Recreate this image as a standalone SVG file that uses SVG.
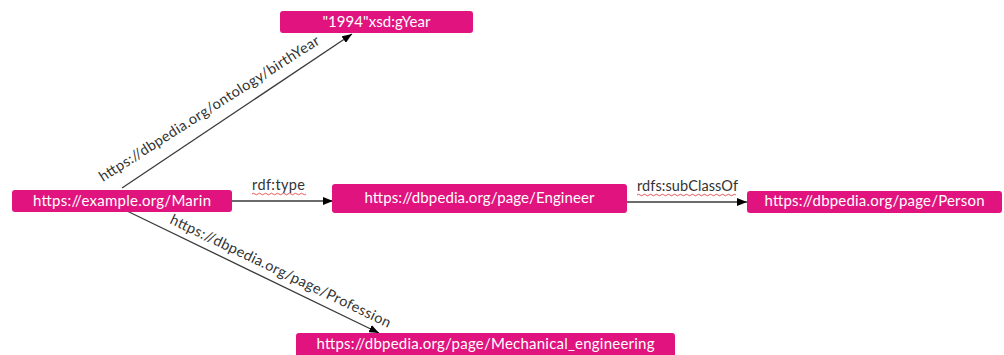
<svg xmlns="http://www.w3.org/2000/svg" width="1004" height="355" viewBox="0 0 1004 355">
<style>
.node rect{fill:#E0137F;}
.node text{fill:#ffffff;font-family:Lato,"Liberation Sans",sans-serif;font-size:15px;text-anchor:middle;}
.edge line{stroke:#3a3a3a;stroke-width:1.3;fill:none;}
.lbl{fill:#333333;font-family:Lato,"Liberation Sans",sans-serif;font-size:14.5px;}
.sq{stroke:#e03030;stroke-width:0.8;fill:none;}
</style>
<defs>
<marker id="arr" markerWidth="10" markerHeight="8" refX="10" refY="4" orient="auto" markerUnits="userSpaceOnUse">
<path d="M0,0 L10,4 L0,8 Z" fill="#000000"/>
</marker>
</defs>
<rect width="1004" height="355" fill="#ffffff"/>
<g id="connectors" class="edge">
<line x1="122" y1="188" x2="352" y2="34" marker-end="url(#arr)"/>
<line x1="232" y1="201" x2="333" y2="201" marker-end="url(#arr)"/>
<line x1="627" y1="202" x2="747" y2="202" marker-end="url(#arr)"/>
<line x1="127" y1="211" x2="379" y2="333" marker-end="url(#arr)"/>
<text class="lbl" transform="translate(103,182) rotate(-32.5)" textLength="258">https://dbpedia.org/ontology/birthYear</text>
<text class="lbl" transform="translate(169,223) rotate(25.6)" textLength="243">https://dbpedia.org/page/Profession</text>
<text class="lbl" x="252" y="190" textLength="53">rdf:type</text>
<text class="lbl" x="637" y="191" textLength="101">rdfs:subClassOf</text>
<path class="sq" d="M252,194 q1.5,-1.5 3,0 t3,0 t3,0 t3,0 t3,0 t3,0 t3,0 t3,0 t3,0 t3,0 t3,0 t3,0 t3,0 t3,0 t3,0 t3,0 t3,0 t3,0"/>
<path class="sq" d="M637,195 q1.5,-1.5 3,0 t3,0 t3,0 t3,0 t3,0 t3,0 t3,0 t3,0 t3,0 t3,0 t3,0 t3,0 t3,0 t3,0 t3,0 t3,0 t3,0 t3,0 t3,0 t3,0 t3,0 t3,0 t3,0 t3,0 t3,0 t3,0 t3,0 t3,0 t3,0 t3,0 t3,0 t3,0 t3,0"/>
</g>
<g id="n-year" class="node">
<rect x="280" y="11" width="193" height="22" rx="3"/>
<text x="376.5" y="27" textLength="108">"1994"xsd:gYear</text>
</g>
<g id="n-marin" class="node">
<rect x="12" y="190" width="220" height="22" rx="3"/>
<text x="122" y="206" textLength="178">https://example.org/Marin</text>
</g>
<g id="n-engineer" class="node">
<rect x="332" y="184" width="295" height="29" rx="3"/>
<text x="479.5" y="203" textLength="230">https://dbpedia.org/page/Engineer</text>
</g>
<g id="n-person" class="node">
<rect x="747" y="191" width="255" height="22" rx="3"/>
<text x="874.5" y="206" textLength="220">https://dbpedia.org/page/Person</text>
</g>
<g id="n-mech" class="node">
<rect x="296" y="333" width="379" height="24" rx="3"/>
<text x="485.5" y="349" textLength="338">https://dbpedia.org/page/Mechanical_engineering</text>
</g>
</svg>
